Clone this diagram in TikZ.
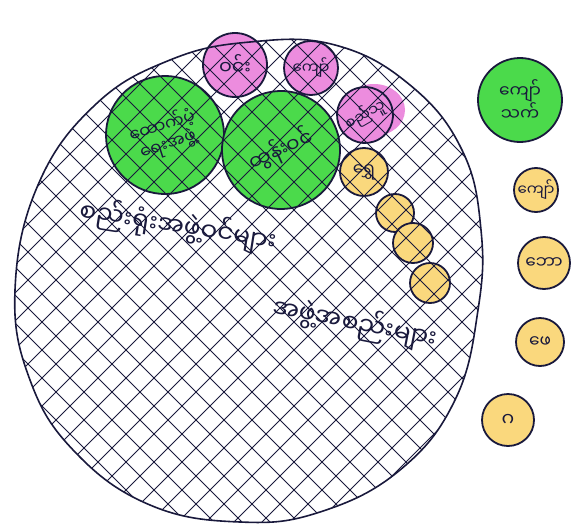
\documentclass[tikz,border=0pt]{standalone}
\usepackage{fontspec}
\usepackage{xcolor}
\newfontfamily\myan[Script=Myanmar]{Noto Sans Myanmar UI}

\definecolor{inkblue}{RGB}{25,25,60}
\definecolor{leafgreen}{RGB}{75,218,75}
\definecolor{rosepink}{RGB}{236,140,222}
\definecolor{sunorange}{RGB}{250,216,125}

\begin{document}
\begin{tikzpicture}[x=1pt,y=-1pt,
  ball/.style={circle,draw=inkblue,line width=1.8pt,inner sep=0pt,font=\myan\fontsize{15}{17}\selectfont,text=inkblue},
  hatch/.style={draw=inkblue,line width=1pt},
  words/.style={font=\myan\fontsize{25}{28}\selectfont,text=inkblue,inner sep=0pt}]
  \useasboundingbox (0,0) rectangle (588,527);
  \def\rimpath{plot[smooth cycle,tension=0.7] coordinates {(15,290) (38,185) (95,105) (170,60) (250,42) (335,45) (410,85) (462,150) (481,230) (478,310) (455,400) (400,470) (320,512) (240,522) (150,505) (75,452) (30,380)}}
  \fill[white] \rimpath;
  % pink smudge round the small pink circle
  \fill[rosepink] (374,110) ellipse (31 and 26);
  % circles inside the rim
  \node[ball,fill=leafgreen,minimum size=118,rotate=18,align=center,font=\myan\fontsize{17}{19}\selectfont] (grnA) at (165,135) {ထောက်ပံ့\\ရေးအဖွဲ့};
  \node[ball,fill=leafgreen,minimum size=118,rotate=25,font=\myan\fontsize{20}{22}\selectfont] (grnB) at (281,150) {ထွန်းဝင်};
  \node[ball,fill=rosepink,minimum size=64,font=\myan\fontsize{19}{21}\selectfont] (pnkA) at (235,65) {ဝင်း};
  \node[ball,fill=rosepink,minimum size=54] (pnkB) at (311,68) {ကျော်};
  \node[ball,fill=rosepink,minimum size=56,rotate=30] (pnkC) at (365,115) {စည်သူ};
  \node[ball,fill=sunorange,minimum size=48,font=\myan\fontsize{17}{19}\selectfont] (orgA) at (364,172) {ရွှေ};
  \node[ball,fill=sunorange,minimum size=38] (orgB) at (395,213) {};
  \node[ball,fill=sunorange,minimum size=40] (orgC) at (413,243) {};
  \node[ball,fill=sunorange,minimum size=40] (orgD) at (430,283) {};
  % text lines
  \node[words,rotate=-9] (lineA) at (178,226) {စည်းရုံးအဖွဲ့ဝင်များ};
  \node[words,rotate=-11] (lineB) at (355,323) {အဖွဲ့အစည်းများ};
  % cross hatching
  \begin{scope}
    \clip \rimpath;
    \foreach \k in {-616,-588,...,620} \draw[hatch] (\k,0) -- ++(620,620);
    \foreach \k in {0,28,...,1240} \draw[hatch] (\k,0) -- ++(-620,620);
  \end{scope}
  \draw[inkblue,line width=1.6pt] \rimpath;
  % circles outside the rim
  \node[ball,fill=leafgreen,minimum size=84,align=center,font=\myan\fontsize{17}{19}\selectfont] (grnOut) at (520,100) {ကျော်\\သက်};
  \node[ball,fill=sunorange,minimum size=44] (orgE) at (536,190) {ကျော်};
  \node[ball,fill=sunorange,minimum size=52,font=\myan\fontsize{17}{19}\selectfont] (orgF) at (544,263) {ဘော};
  \node[ball,fill=sunorange,minimum size=48,font=\myan\fontsize{17}{19}\selectfont] (orgG) at (540,342) {ဖေ};
  \node[ball,fill=sunorange,minimum size=52,font=\myan\fontsize{19}{21}\selectfont] (orgH) at (508,420) {ဂ};
\end{tikzpicture}
\end{document}
